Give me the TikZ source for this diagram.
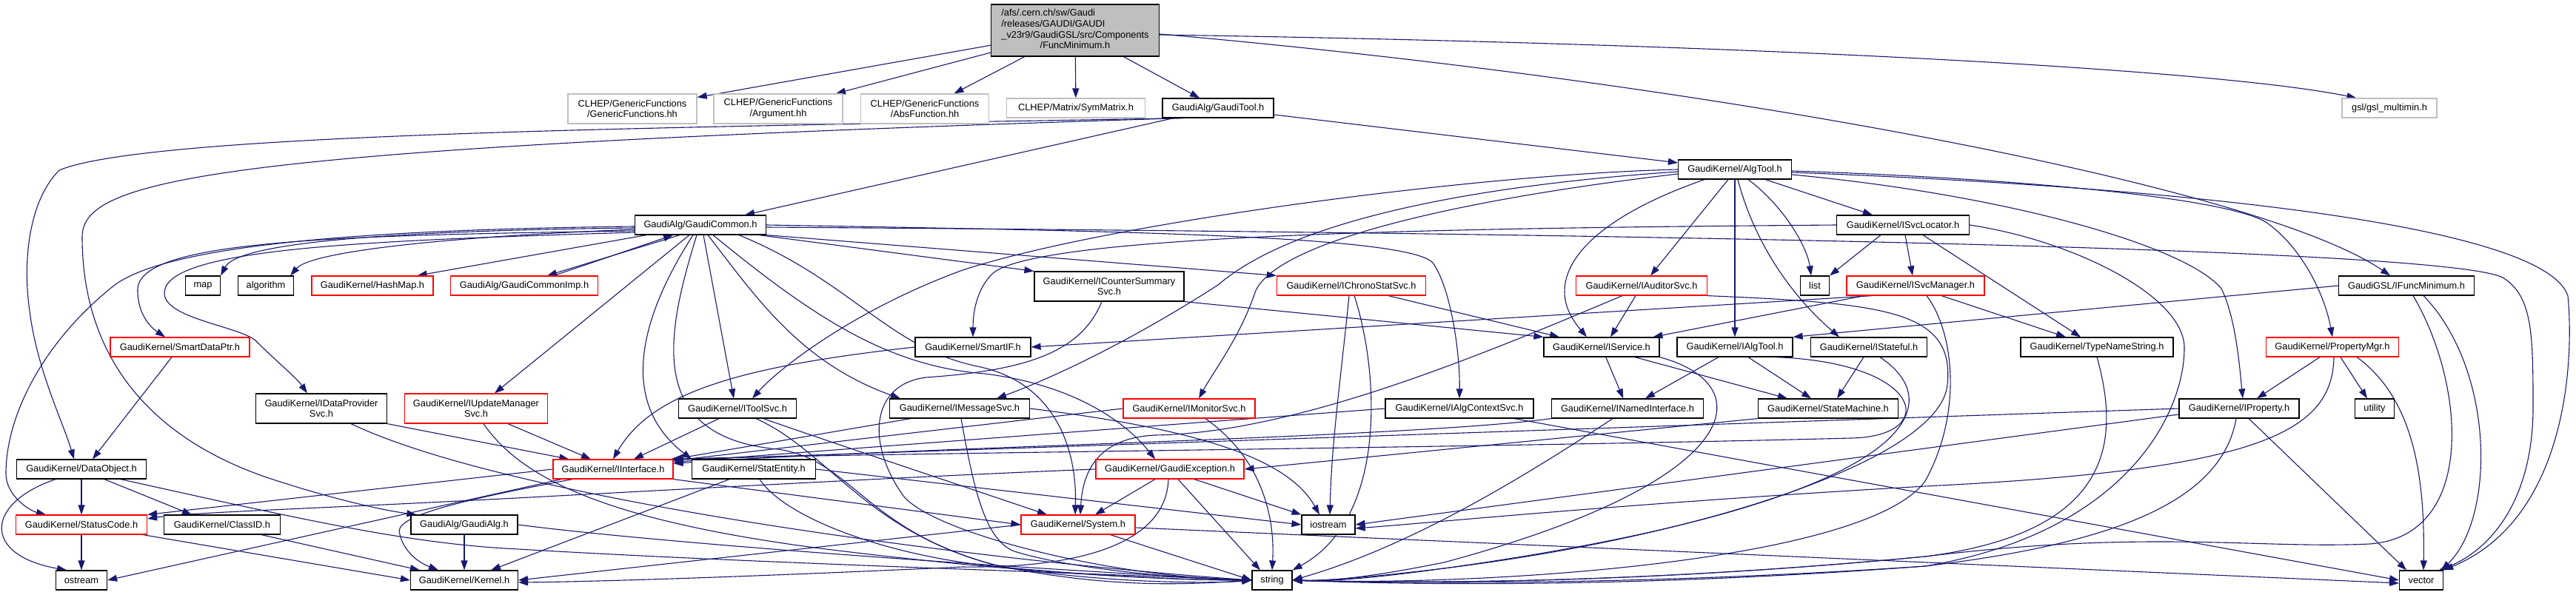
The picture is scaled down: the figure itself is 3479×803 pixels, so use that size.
\documentclass[tikz,border=0pt]{standalone}
\usepackage{fontspec}
\setmainfont{Liberation Sans}
\usetikzlibrary{arrows.meta}
\definecolor{eblue}{HTML}{191970}
\definecolor{lgray}{HTML}{BFBFBF}
\definecolor{rootgray}{HTML}{BFBFBF}
\pgfdeclarelayer{bg}
\pgfdeclarelayer{edges}
\pgfsetlayers{bg,edges,main}
\begin{document}
\begin{tikzpicture}[x=1pt,y=-1pt,font=\fontsize{12.8pt}{14.7pt}\selectfont,
  nb/.style={draw=black,line width=1.2pt,fill=white,inner sep=0pt,minimum height=26pt,align=center,text=black},
  nr/.style={nb,draw=red},
  ng/.style={nb,draw=lgray},
  lnk/.style={draw=eblue,line width=1.1pt,-{Triangle[length=13pt,width=9pt]}}]
\useasboundingbox (0,0) rectangle (3479,803);
\begin{pgfonlayer}{bg}
\fill[white] (0,0) rectangle (3479,803);
\end{pgfonlayer}
% nodes
\node[nb,fill=rootgray,minimum width=227pt,minimum height=70pt] (FM) at (1452,41)
 {\begin{tabular}{@{}l@{}}/afs/.cern.ch/sw/Gaudi\\/releases/GAUDI/GAUDI\\\_v23r9/GaudiGSL/src/Components\\\multicolumn{1}{@{}c@{}}{/FuncMinimum.h}\end{tabular}};
\node[ng,minimum width=174pt,minimum height=40pt] (GenFun) at (854,147) {CLHEP/GenericFunctions\\/GenericFunctions.hh};
\node[ng,minimum width=174pt,minimum height=40pt] (Arg) at (1051,147) {CLHEP/GenericFunctions\\/Argument.hh};
\node[ng,minimum width=173pt,minimum height=40pt] (AbsF) at (1249,147) {CLHEP/GenericFunctions\\/AbsFunction.hh};
\node[ng,minimum width=187pt] (SymM) at (1453,146) {CLHEP/Matrix/SymMatrix.h};
\node[nb,minimum width=150pt] (GT) at (1645,146) {GaudiAlg/GaudiTool.h};
\node[ng,minimum width=128pt] (gsl) at (3227,146) {gsl/gsl\_multimin.h};
\node[nb,minimum width=177pt] (GC) at (946,304) {GaudiAlg/GaudiCommon.h};
\node[nb,minimum width=153pt] (AT) at (2343,229) {GaudiKernel/AlgTool.h};
\node[nb,minimum width=179pt] (ISL) at (2570,304) {GaudiKernel/ISvcLocator.h};
\node[nb,minimum width=47pt] (map) at (274,386) {map};
\node[nb,minimum width=75pt] (algo) at (359,386) {algorithm};
\node[nr,minimum width=164pt] (HashMap) at (503,386) {GaudiKernel/HashMap.h};
\node[nr,minimum width=199pt] (GCImp) at (708,386) {GaudiAlg/GaudiCommonImp.h};
\node[nb,minimum width=202pt,minimum height=40pt] (ICSS) at (1498,387) {GaudiKernel/ICounterSummary\\Svc.h};
\node[nr,minimum width=201pt] (ICS) at (1825,386) {GaudiKernel/IChronoStatSvc.h};
\node[nr,minimum width=177pt] (IAS) at (2217,386) {GaudiKernel/IAuditorSvc.h};
\node[nb,minimum width=39pt] (list) at (2451,386) {list};
\node[nr,minimum width=186pt] (ISM) at (2587,386) {GaudiKernel/ISvcManager.h};
\node[nb,minimum width=183pt] (IFM) at (3250,386) {GaudiGSL/IFuncMinimum.h};
\node[nr,minimum width=188pt] (SDP) at (243,469) {GaudiKernel/SmartDataPtr.h};
\node[nb,minimum width=156pt] (SmartIF) at (1314,469) {GaudiKernel/SmartIF.h};
\node[nb,minimum width=156pt] (ISvc) at (2163,469) {GaudiKernel/IService.h};
\node[nb,minimum width=156pt] (IAlgTool) at (2343,469) {GaudiKernel/IAlgTool.h};
\node[nb,minimum width=157pt] (IStateful) at (2524,469) {GaudiKernel/IStateful.h};
\node[nb,minimum width=206pt] (TNS) at (2832,469) {GaudiKernel/TypeNameString.h};
\node[nr,minimum width=179pt] (PMgr) at (3150,469) {GaudiKernel/PropertyMgr.h};
\node[nb,minimum width=177pt,minimum height=40pt] (IDPS) at (434,552) {GaudiKernel/IDataProvider\\Svc.h};
\node[nr,minimum width=193pt,minimum height=40pt] (IUMS) at (643,552) {GaudiKernel/IUpdateManager\\Svc.h};
\node[nb,minimum width=159pt] (IToolSvc) at (996,552) {GaudiKernel/IToolSvc.h};
\node[nb,minimum width=189pt] (IMsg) at (1296,552) {GaudiKernel/IMessageSvc.h};
\node[nr,minimum width=178pt] (IMon) at (1606,552) {GaudiKernel/IMonitorSvc.h};
\node[nb,minimum width=200pt] (IACS) at (1971,552) {GaudiKernel/IAlgContextSvc.h};
\node[nb,minimum width=205pt] (INI) at (2198,552) {GaudiKernel/INamedInterface.h};
\node[nb,minimum width=189pt] (SM) at (2469,552) {GaudiKernel/StateMachine.h};
\node[nb,minimum width=162pt] (IProp) at (3024,552) {GaudiKernel/IProperty.h};
\node[nb,minimum width=53pt] (utility) at (3207,552) {utility};
\node[nb,minimum width=175pt] (DObj) at (110,634) {GaudiKernel/DataObject.h};
\node[nr,minimum width=162pt] (IInt) at (828,634) {GaudiKernel/IInterface.h};
\node[nb,minimum width=167pt] (StatE) at (1018,634) {GaudiKernel/StatEntity.h};
\node[nr,minimum width=200pt] (GExc) at (1580,634) {GaudiKernel/GaudiException.h};
\node[nr,minimum width=177pt] (SCode) at (110,709) {GaudiKernel/StatusCode.h};
\node[nb,minimum width=157pt] (ClassID) at (300,709) {GaudiKernel/ClassID.h};
\node[nb,minimum width=144pt] (GAlg) at (627,709) {GaudiAlg/GaudiAlg.h};
\node[nr,minimum width=154pt] (System) at (1456,709) {GaudiKernel/System.h};
\node[nb,minimum width=72pt] (iostream) at (1794,709) {iostream};
\node[nb,minimum width=69pt] (ostream) at (110,784) {ostream};
\node[nb,minimum width=145pt] (Kernel) at (627,784) {GaudiKernel/Kernel.h};
\node[nb,minimum width=54pt] (string) at (1718,784) {string};
\node[nb,minimum width=59pt] (vector) at (3270,784) {vector};
% edges
\begin{pgfonlayer}{edges}
% root
\draw[lnk] (FM) -- (GenFun);
\draw[lnk] (FM) -- (Arg);
\draw[lnk] (FM) -- (AbsF);
\draw[lnk] (FM) -- (SymM);
\draw[lnk] (FM) -- (GT);
\draw[lnk] ([yshift=-6pt]FM.east) .. controls (2400,60) and (3000,95) .. ([xshift=20pt]gsl.north west);
\draw[lnk] ([yshift=-5pt]FM.east) .. controls (2300,110) and (3050,250) .. ([xshift=-22pt]IFM.north);
% GaudiTool
\draw[lnk] (GT) -- (GC);
\draw[lnk] (GT) -- (AT);
\draw[lnk] ([xshift=-45pt]GT.south) .. controls (900,172) and (200,180) .. (80,230) .. controls (40,270) and (30,350) .. (40,420) .. controls (50,500) and (85,570) .. ([xshift=-10pt]DObj.north);
\draw[lnk] ([xshift=-50pt]GT.south) .. controls (300,200) and (111,240) .. (111,320) .. controls (111,480) and (200,590) .. (360,645) .. controls (450,675) and (520,690) .. ([xshift=8pt]GAlg.north west);
% GaudiCommon
\draw[lnk] ([yshift=-4pt]GC.west) .. controls (500,312) and (320,330) .. (map.north east);
\draw[lnk] ([yshift=-6pt]GC.west) .. controls (600,320) and (420,340) .. ([xshift=-5pt]algo.north east);
\draw[lnk] ([xshift=16pt]GC.south west) -- ([xshift=-22pt]HashMap.north east);
\draw[lnk] ([yshift=-2pt]GC.west) .. controls (500,310) and (230,330) .. (155,385) .. controls (60,460) and (8,560) .. (8,640) .. controls (8,670) and (40,690) .. ([xshift=-48pt]SCode.north);
\draw[lnk] ([yshift=-8pt]GC.west) .. controls (450,318) and (190,325) .. (186,390) .. controls (185,420) and (200,440) .. ([xshift=-20pt]SDP.north);
\draw[lnk] ([yshift=-10pt]GC.west) .. controls (500,325) and (225,335) .. (222,395) .. controls (220,430) and (320,440) .. (345,460) .. controls (375,490) and (400,510) .. ([xshift=-19pt]IDPS.north);
\draw[lnk] ([xshift=-15pt]GC.south) -- ([xshift=25pt]IUMS.north);
\draw[lnk] ([xshift=-28pt]GC.south) -- ([xshift=31pt]GCImp.north);
\draw[lnk] ([xshift=40pt]GCImp.north) -- ([xshift=-37pt]GC.south);
\draw[lnk] ([xshift=-10pt]GC.south) .. controls (870,420) and (830,540) .. (StatE.north west);
\draw[lnk] ([xshift=-5pt]GC.south) .. controls (900,450) and (870,590) .. (1050,607) .. controls (1150,620) and (1170,720) .. (1350,765) .. controls (1500,795) and (1600,790) .. (string.west);
\draw[lnk] ([xshift=4pt]GC.south) -- ([xshift=-5pt]IToolSvc.north);
\draw[lnk] ([xshift=10pt]GC.south) .. controls (1020,400) and (1080,490) .. ([xshift=-80pt]IMsg.north);
\draw[lnk] ([xshift=17pt]GC.south) .. controls (1100,430) and (1200,495) .. (1330,505) .. controls (1450,520) and (1520,570) .. ([xshift=-20pt]GExc.north);
\draw[lnk] ([xshift=52pt]GC.south) .. controls (1150,380) and (1200,470) .. (1320,495) .. controls (1420,515) and (1455,600) .. ([xshift=-4pt]System.north);
\draw[lnk] ([xshift=-10pt]GC.south east) -- (ICSS.north west);
\draw[lnk] (GC.south east) -- (ICS.north west);
\draw[lnk] (GC.east) .. controls (1500,312) and (1900,318) .. (1935,355) .. controls (1960,390) and (1972,480) .. (IACS.north);
\draw[lnk] ([yshift=-3pt]GC.east) .. controls (2200,315) and (3300,335) .. (3380,375) .. controls (3420,400) and (3421,450) .. (3421,550) .. controls (3421,680) and (3360,745) .. ([xshift=-6pt]vector.north east);
% AlgTool
\draw[lnk] (AT) -- (ISL);
\draw[lnk] ([xshift=-9pt]AT.south) -- ([xshift=12pt]IAS.north);
\draw[lnk] ([xshift=18pt]AT.south) .. controls (2405,275) and (2440,330) .. ([xshift=-5pt]list.north);
\draw[lnk] ([xshift=-41pt]AT.south) .. controls (2180,285) and (2112,340) .. (2113,395) .. controls (2113,420) and (2130,440) .. ([xshift=-20pt]ISvc.north);
\draw[lnk] (AT) -- (IAlgTool);
\draw[lnk] ([xshift=4pt]AT.south) .. controls (2370,330) and (2420,400) .. ([xshift=-40pt]IStateful.north);
\draw[lnk] (AT.west) .. controls (2000,235) and (1500,300) .. (1300,365) .. controls (1150,420) and (1050,500) .. ([xshift=20pt]IToolSvc.north);
\draw[lnk] ([yshift=-3pt]AT.west) .. controls (2000,250) and (1750,295) .. (1645,385) .. controls (1560,440) and (1450,500) .. ([xshift=50pt]IMsg.north);
\draw[lnk] ([yshift=-6pt]AT.west) .. controls (1950,272) and (1720,330) .. (1695,395) .. controls (1675,455) and (1640,500) .. ([xshift=13pt]IMon.north);
\draw[lnk] ([yshift=-2pt]AT.east) .. controls (2700,240) and (3000,265) .. (3060,300) .. controls (3110,335) and (3140,400) .. (PMgr.north);
\draw[lnk] ([yshift=-4pt]AT.east) .. controls (3000,255) and (3440,310) .. (3468,400) .. controls (3476,480) and (3470,700) .. (vector.north east);
\draw[lnk] ([yshift=-7pt]AT.east) .. controls (2700,262) and (2950,330) .. (3000,390) .. controls (3020,430) and (3025,500) .. ([xshift=5pt]IProp.north);
% ISvcLocator
\draw[lnk] ([xshift=-30pt]ISL.south) -- (list.north east);
\draw[lnk] ([xshift=3pt]ISL.south) -- ([xshift=-4pt]ISM.north);
\draw[lnk] ([xshift=27pt]ISL.south) -- ([xshift=-22pt]TNS.north);
\draw[lnk] (ISL.west) .. controls (2000,308) and (1400,315) .. (1340,370) .. controls (1320,390) and (1314,420) .. (SmartIF.north);
\draw[lnk] (ISL.east) .. controls (2800,325) and (2950,400) .. (2950,470) .. controls (2950,560) and (2870,720) .. (2600,765) .. controls (2200,795) and (1900,790) .. (string.east);
% ISvcManager
\draw[lnk] (ISM) -- (ISvc);
\draw[lnk] ([xshift=35pt]ISM.south west) -- (SmartIF.east);
\draw[lnk] ([xshift=35pt]ISM.south) -- ([xshift=-42pt]TNS.north);
\draw[lnk] ([xshift=15pt]ISM.south) .. controls (2640,450) and (2650,560) .. (2600,650) .. controls (2520,760) and (2000,792) .. (string.east);
% IAuditorSvc
\draw[lnk] ([xshift=-8pt]IAS.south) -- ([xshift=12pt]ISvc.north);
\draw[lnk] ([xshift=-26pt]IAS.south) .. controls (2000,480) and (1750,585) .. (1560,588) .. controls (1480,592) and (1462,640) .. ([xshift=3pt]System.north);
\draw[lnk] (IAS.south east) .. controls (2550,410) and (2640,420) .. (2630,520) .. controls (2620,620) and (2300,725) .. (1950,768) .. controls (1850,780) and (1790,785) .. (string.east);
% IChronoStatSvc
\draw[lnk] ([xshift=50pt]ICS.south) -- ([xshift=-57pt]ISvc.north);
\draw[lnk] ([xshift=-3pt]ICS.south) .. controls (1812,500) and (1798,600) .. ([xshift=2pt]iostream.north);
\draw[lnk] ([xshift=4pt]ICS.south) .. controls (1862,500) and (1875,700) .. (string.north east);
% ICounterSummarySvc
\draw[lnk] (ICSS.south east) -- (ISvc.north west);
\draw[lnk] ([xshift=-10pt]ICSS.south) .. controls (1462,470) and (1400,500) .. (1250,510) .. controls (1175,520) and (1170,600) .. (1220,670) .. controls (1260,720) and (1500,780) .. (string.west);
% SmartIF, SmartDataPtr
\draw[lnk] (SmartIF.west) .. controls (1000,495) and (880,530) .. (IInt.north);
\draw[lnk] ([xshift=-11pt]SDP.south) -- ([xshift=15pt]DObj.north);
% IDataProviderSvc, IUpdateManagerSvc
\draw[lnk] (IDPS.south east) -- ([xshift=22pt]IInt.north west);
\draw[lnk] ([xshift=40pt]IDPS.south) .. controls (700,680) and (1350,760) .. (string.west);
\draw[lnk] ([xshift=43pt]IUMS.south) -- ([xshift=-30pt]IInt.north);
\draw[lnk] ([xshift=10pt]IUMS.south) .. controls (700,640) and (800,700) .. (1100,740) .. controls (1400,778) and (1600,784) .. (string.west);
% IToolSvc
\draw[lnk] ([xshift=-25pt]IToolSvc.south) -- ([xshift=28pt]IInt.north);
\draw[lnk] ([xshift=35pt]IToolSvc.south) .. controls (1100,590) and (1250,640) .. ([xshift=-42pt]System.north);
\draw[lnk] ([xshift=25pt]IToolSvc.south) .. controls (1120,610) and (1170,720) .. (1350,765) .. controls (1500,790) and (1650,788) .. (string.west);
% IMessageSvc
\draw[lnk] ([xshift=-66pt]IMsg.south) -- (IInt.north east);
\draw[lnk] (IMsg.east) .. controls (1620,580) and (1740,620) .. ([xshift=-12pt]iostream.north);
\draw[lnk] ([xshift=2pt]IMsg.south) .. controls (1315,660) and (1330,730) .. (1370,745) .. controls (1450,770) and (1600,782) .. (string.west);
% IMonitorSvc
\draw[lnk] (IMon.west) -- ([yshift=-2pt]IInt.north east);
\draw[lnk] ([xshift=22pt]IMon.south) .. controls (1705,620) and (1722,700) .. (string.north);
% IAlgContextSvc
\draw[lnk] (IACS.west) -- ([yshift=-4pt]IInt.north east);
\draw[lnk] (IACS) -- (vector.west);
% IService
\draw[lnk] (ISvc) -- (INI);
\draw[lnk] ([xshift=45pt]ISvc.south) -- ([xshift=-55pt]SM.north);
\draw[lnk] (ISvc.south east) .. controls (2380,520) and (2360,650) .. (1950,760) .. controls (1850,780) and (1800,785) .. (string.east);
% IAlgTool
\draw[lnk] ([xshift=-22pt]IAlgTool.south) -- ([xshift=24pt]INI.north);
\draw[lnk] ([xshift=18pt]IAlgTool.south) -- ([xshift=-23pt]SM.north);
\draw[lnk] ([xshift=55pt]IAlgTool.south) .. controls (2600,490) and (2620,590) .. (2500,592) .. controls (2000,605) and (1200,612) .. ([xshift=-4pt]IInt.north east);
% IStateful
\draw[lnk] ([xshift=-7pt]IStateful.south) -- ([xshift=12pt]SM.north);
\draw[lnk] ([xshift=15pt]IStateful.south) .. controls (2640,550) and (2580,680) .. (1950,768) .. controls (1850,782) and (1790,786) .. (string.east);
% INamedInterface
\draw[lnk] (INI.south west) .. controls (1900,592) and (1200,605) .. ([yshift=-6pt]IInt.north east);
\draw[lnk] ([xshift=-20pt]INI.south) .. controls (2050,650) and (1900,740) .. (string.east);
% StateMachine
\draw[lnk] (SM.south west) -- (GExc.east);
% IProperty
\draw[lnk] (IProp.west) -- ([yshift=-1pt]IInt.north east);
\draw[lnk] ([yshift=-8pt]IProp.west) -- (iostream.east);
\draw[lnk] ([xshift=-4pt]IProp.south) .. controls (3000,680) and (2850,735) .. (2600,765) .. controls (2200,792) and (1900,788) .. (string.east);
\draw[lnk] ([xshift=13pt]IProp.south) -- ([xshift=-20pt]vector.north);
% PropertyMgr
\draw[lnk] ([xshift=-17pt]PMgr.south) -- ([xshift=24pt]IProp.north);
\draw[lnk] ([xshift=11pt]PMgr.south) -- ([xshift=-10pt]utility.north);
\draw[lnk] ([xshift=33pt]PMgr.south) .. controls (3262,540) and (3275,650) .. ([xshift=3pt]vector.north);
\draw[lnk] ([xshift=2pt]PMgr.south) .. controls (3150,585) and (3050,635) .. (2600,657) .. controls (2200,680) and (1950,705) .. ([yshift=-5pt]iostream.east);
% TypeNameString
\draw[lnk] (TNS.south) .. controls (2865,600) and (2850,720) .. (2600,752) .. controls (2200,790) and (1900,788) .. (string.east);
% IFuncMinimum
\draw[lnk] (IFM.west) -- (IAlgTool.north east);
\draw[lnk] ([xshift=9pt]IFM.south) .. controls (3330,520) and (3345,725) .. (3200,735) .. controls (3050,742) and (2900,715) .. (2600,752) .. controls (2200,790) and (1900,788) .. (string.east);
\draw[lnk] ([xshift=23pt]IFM.south) .. controls (3370,500) and (3370,700) .. ([xshift=-3pt]vector.north east);
% DataObject
\draw[lnk] (DObj) -- (SCode);
\draw[lnk] ([xshift=31pt]DObj.south) -- ([xshift=-41pt]ClassID.north);
\draw[lnk] ([xshift=-35pt]DObj.south) .. controls (-20,680) and (-25,750) .. ([xshift=-20pt]ostream.north);
\draw[lnk] ([xshift=53pt]DObj.south) .. controls (400,700) and (550,735) .. (700,742) .. controls (1000,760) and (1400,772) .. (string.west);
% StatusCode, ClassID, GaudiAlg
\draw[lnk] (SCode) -- (ostream);
\draw[lnk] ([xshift=-6pt]SCode.south east) -- (Kernel.west);
\draw[lnk] ([xshift=-26pt]ClassID.south east) -- ([xshift=13pt]Kernel.north west);
\draw[lnk] (GAlg) -- (Kernel);
\draw[lnk] (GAlg.east) .. controls (900,735) and (1400,770) .. (string.west);
% IInterface
\draw[lnk] (IInt.west) -- (SCode.north east);
\draw[lnk] ([xshift=-55pt]IInt.south) .. controls (600,680) and (530,700) .. (540,722) .. controls (545,745) and (565,760) .. ([xshift=-35pt]Kernel.north);
\draw[lnk] (IInt.south east) -- (System.west);
\draw[lnk] ([xshift=-70pt]IInt.south) -- (ostream.east);
% GaudiException
\draw[lnk] ([xshift=-20pt]GExc.south) -- ([xshift=23pt]System.north);
\draw[lnk] ([xshift=11pt]GExc.south) -- ([xshift=-16pt]string.north);
\draw[lnk] ([xshift=33pt]GExc.south) -- (iostream.north west);
\draw[lnk] (GExc.west) .. controls (1200,645) and (800,668) .. (600,678) .. controls (400,688) and (250,693) .. ([yshift=8pt]SCode.east);
\draw[lnk] ([xshift=-2pt]GExc.south) .. controls (1575,730) and (1470,768) .. (1300,766) .. controls (1000,780) and (800,786) .. ([yshift=-3pt]Kernel.east);
% StatEntity
\draw[lnk] ([xshift=-33pt]StatE.south) -- ([xshift=36pt]Kernel.north);
\draw[lnk] ([xshift=8pt]StatE.south) .. controls (1060,700) and (1200,752) .. (1350,766) .. controls (1500,780) and (1620,784) .. (string.west);
\draw[lnk] (StatE.east) -- (iostream.west);
% System
\draw[lnk] ([yshift=-4pt]System.east) -- ([yshift=-4pt]vector.west);
\draw[lnk] ([xshift=-34pt]System.south east) -- (string.west);
\draw[lnk] (System.west) -- (Kernel.east);
\end{pgfonlayer}
\end{tikzpicture}
\end{document}
